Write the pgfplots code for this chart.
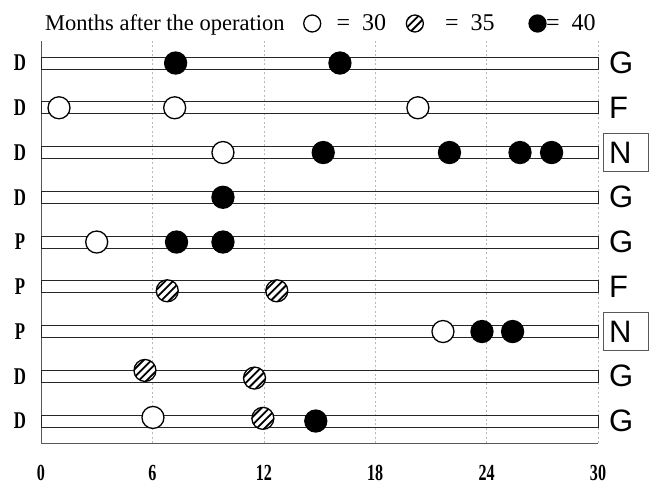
\documentclass[border=0pt]{standalone}
\usepackage{pgfplots}
\pgfplotsset{compat=1.18}
\usepackage{fontspec}
\setmainfont{Liberation Serif}
\newfontfamily\arialf{Liberation Sans}
\newfontfamily\tickfont[FakeStretch=0.7]{Liberation Serif}

\pgfdeclareplotmark{hatchcircle}{%
  \pgfpathcircle{\pgfpointorigin}{\pgfplotmarksize}%
  \pgfsetfillcolor{white}%
  \pgfusepath{fill}%
  \begin{pgfscope}%
    \pgfpathcircle{\pgfpointorigin}{\pgfplotmarksize}%
    \pgfusepath{clip}%
    \pgfsetlinewidth{1.8pt}%
    \pgfsetstrokecolor{black}%
    \pgfpathmoveto{\pgfpoint{-31.7pt}{-20pt}}\pgfpathlineto{\pgfpoint{8.3pt}{20pt}}%
    \pgfpathmoveto{\pgfpoint{-23.9pt}{-20pt}}\pgfpathlineto{\pgfpoint{16.1pt}{20pt}}%
    \pgfpathmoveto{\pgfpoint{-16.1pt}{-20pt}}\pgfpathlineto{\pgfpoint{23.9pt}{20pt}}%
    \pgfpathmoveto{\pgfpoint{-8.3pt}{-20pt}}\pgfpathlineto{\pgfpoint{31.7pt}{20pt}}%
    \pgfusepath{stroke}%
  \end{pgfscope}%
  \pgfpathcircle{\pgfpointorigin}{\pgfplotmarksize}%
  \pgfusepath{stroke}%
}

\pgfplotstableread{
x y
0.97 8
7.2 8
20.3 8
9.8 7
3.0 5
21.65 3
6.03 1.08
}\whitedata
\pgfplotstableread{
x y
6.8 3.91
12.7 3.91
5.6 2.13
11.5 1.96
11.95 1.06
}\hatchdata
\pgfplotstableread{
x y
7.25 9
16.1 9
15.2 7
22.0 7
25.8 7
27.5 7
9.8 6
7.3 5
9.8 5
23.75 3
25.4 3
14.8 1
}\blackdata

\begin{document}
\begin{tikzpicture}
\path[use as bounding box] (-41pt,-41.6pt) rectangle (609pt,443.4pt);
\begin{axis}[
  scale only axis, width=557pt, height=402.75pt,
  xmin=0, xmax=30, ymin=0.5, ymax=9.5,
  axis x line*=bottom, axis y line*=left,
  axis line style={-, gray!70!black, line width=0.8pt},
  xtick={0,6,12,18,24,30}, ytick={1,...,9},
  yticklabels={D,D,P,P,P,D,D,D,D},
  major tick length=0pt,
  xmajorgrids,
  major grid style={gray!55, line width=0.6pt, dash pattern=on 2pt off 2.5pt},
  /pgf/number format/assume math mode=true,
  x tick label style={font=\tickfont\bfseries\fontsize{23}{23}\selectfont, inner sep=0pt, anchor=center, yshift=-29.5pt},
  y tick label style={font=\tickfont\bfseries\fontsize{24}{24}\selectfont, inner sep=0pt, anchor=center, xshift=-21pt},
  clip=false,
  legend columns=-1,
  legend style={draw=none, fill=none, inner sep=0pt, column sep=0pt,
    nodes={inner sep=0pt},
    font=\fontsize{24}{24}\selectfont,
    at={(axis description cs:0.4713,1.0426)}, anchor=west},
  legend image post style={mark size=8.5pt},
]
\addplot[xbar, bar width=12pt, bar shift=0pt, draw=black!85, fill=none, line width=0.9pt, forget plot]
  coordinates {(30,1) (30,2) (30,3) (30,4) (30,5) (30,6) (30,7) (30,8) (30,9)};
\addplot[only marks, mark=*, mark size=11pt, mark options={draw=black, fill=white, line width=1.3pt}]
  table[x=x,y=y] {\whitedata};
\addlegendentry{\makebox[85pt][l]{\hspace*{16pt}=\hspace*{12pt}30}}
\addplot[only marks, mark=hatchcircle, mark size=11pt, mark options={draw=black, line width=1.3pt}]
  table[x=x,y=y] {\hatchdata};
\addlegendentry{\makebox[105pt][l]{\hspace*{21pt}=\hspace*{12pt}35}}
\addplot[only marks, mark=*, mark size=11pt, mark options={draw=black, fill=black, line width=1.3pt}]
  table[x=x,y=y] {\blackdata};
\addlegendentry{\makebox[62pt][l]{\hspace*{0pt}=\hspace*{12pt}40}}

\node[anchor=base west, inner sep=0pt, font=\fontsize{22.5}{22.5}\selectfont, xshift=4pt, yshift=10.65pt]
  at (rel axis cs:0,1) {Months after the operation};

\node[anchor=west, inner sep=0pt, xshift=11pt, font=\arialf\fontsize{31}{31}\selectfont] at (axis cs:30,9) {G};
\node[anchor=west, inner sep=0pt, xshift=11pt, font=\arialf\fontsize{31}{31}\selectfont] at (axis cs:30,8) {F};
\node[anchor=west, inner sep=0pt, xshift=11pt, font=\arialf\fontsize{31}{31}\selectfont] at (axis cs:30,7) {N};
\node[anchor=west, inner sep=0pt, xshift=11pt, font=\arialf\fontsize{31}{31}\selectfont] at (axis cs:30,6) {G};
\node[anchor=west, inner sep=0pt, xshift=11pt, font=\arialf\fontsize{31}{31}\selectfont] at (axis cs:30,5) {G};
\node[anchor=west, inner sep=0pt, xshift=11pt, font=\arialf\fontsize{31}{31}\selectfont] at (axis cs:30,4) {F};
\node[anchor=west, inner sep=0pt, xshift=11pt, font=\arialf\fontsize{31}{31}\selectfont] at (axis cs:30,3) {N};
\node[anchor=west, inner sep=0pt, xshift=11pt, font=\arialf\fontsize{31}{31}\selectfont] at (axis cs:30,2) {G};
\node[anchor=west, inner sep=0pt, xshift=11pt, font=\arialf\fontsize{31}{31}\selectfont] at (axis cs:30,1) {G};
\draw[gray!70!black, line width=0.8pt] ([xshift=5pt,yshift=-19pt]axis cs:30,7) rectangle ([xshift=50pt,yshift=19pt]axis cs:30,7);
\draw[gray!70!black, line width=0.8pt] ([xshift=5pt,yshift=-19pt]axis cs:30,3) rectangle ([xshift=50pt,yshift=19pt]axis cs:30,3);
\end{axis}
\end{tikzpicture}
\end{document}
